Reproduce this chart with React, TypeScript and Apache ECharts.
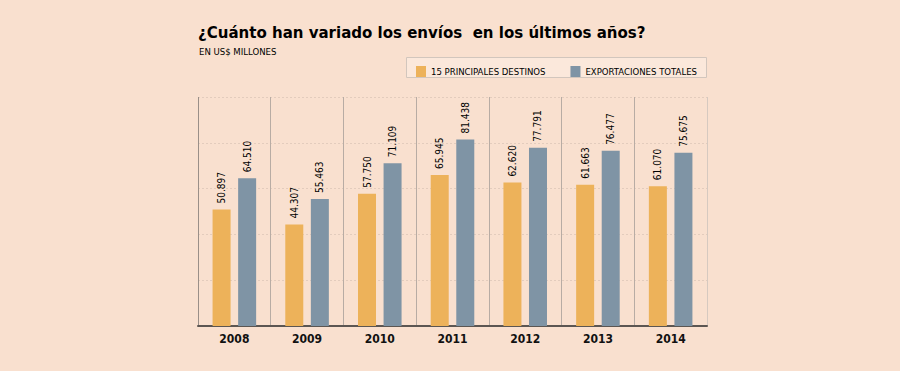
import React, { useEffect, useRef } from "react";
import * as echarts from "echarts";

const years = ["2008", "2009", "2010", "2011", "2012", "2013", "2014"];
const principales = [50897, 44307, 57750, 65945, 62620, 61663, 61070];
const totales = [64510, 55463, 71109, 81438, 77791, 76477, 75675];

const seriesNames = ["15 PRINCIPALES DESTINOS", "EXPORTACIONES TOTALES"];
const colors = ["#EDB25A", "#7F94A5"];
const BG = "#F9E0CF";
const condensed = "'DejaVu Sans Condensed', 'DejaVu Sans', sans-serif";

const fmt = (v: number) => v.toString().replace(/\B(?=(\d{3})+(?!\d))/g, ".");

export default function App() {
  const ref = useRef<HTMLDivElement>(null);

  useEffect(() => {
    document.body.style.margin = "0";
    if (!ref.current) return;
    const chart = echarts.init(ref.current, null, { renderer: "svg" });

    const label = {
      show: true,
      position: "top",
      rotate: 90,
      align: "left",
      verticalAlign: "middle",
      distance: 6,
      fontFamily: condensed,
      fontSize: 10,
      color: "#000",
      formatter: (p: any) => fmt(p.value),
    };

    chart.setOption({
      animation: false,
      backgroundColor: BG,
      title: [
        {
          text: "¿Cuánto han variado los envíos  en los últimos años?",
          left: 193,
          top: 18,
          textStyle: {
            fontFamily: condensed,
            fontWeight: "bold",
            fontSize: 16.7,
            color: "#000",
          },
        },
        {
          text: "EN US$ MILLONES",
          left: 194,
          top: 41,
          textStyle: {
            fontFamily: condensed,
            fontWeight: "normal",
            fontSize: 9.5,
            color: "#000",
          },
        },
      ],
      graphic: [
        {
          type: "rect",
          shape: { x: 406.5, y: 57.5, width: 300, height: 20 },
          style: { fill: "#FBE8DB", stroke: "#D2C6BD", lineWidth: 1 },
          z: 0,
        },
      ],
      legend: {
        left: 411,
        top: 61,
        itemWidth: 10,
        itemHeight: 11,
        itemGap: 25,
        icon: "rect",
        textStyle: { fontFamily: condensed, fontSize: 9.5, color: "#000" },
        data: seriesNames,
      },
      grid: { left: 198, right: 193, top: 97, bottom: 45 },
      xAxis: {
        type: "category",
        data: years,
        axisLine: { show: true, lineStyle: { color: "#5C5652", width: 2 } },
        axisTick: { show: false },
        axisLabel: {
          fontFamily: condensed,
          fontWeight: "bold",
          fontSize: 12,
          color: "#111",
          margin: 7,
        },
        splitLine: {
          show: true,
          interval: 0,
          lineStyle: {
            color: ["#9A8F88", "#B8ACA4", "#B8ACA4", "#B8ACA4", "#B8ACA4", "#B8ACA4", "#B8ACA4", "#D6C9C0"],
            width: 1,
          },
        },
      },
      yAxis: {
        type: "value",
        min: 0,
        max: 100000,
        interval: 20000,
        axisLine: { show: false },
        axisTick: { show: false },
        axisLabel: { show: false },
        splitLine: { show: true, lineStyle: { color: "#E3CCBD", type: [2, 2], width: 1 } },
      },
      series: [
        {
          name: seriesNames[0],
          type: "bar",
          data: principales,
          barWidth: 18,
          barGap: "42%",
          itemStyle: { color: colors[0] },
          label,
        },
        {
          name: seriesNames[1],
          type: "bar",
          data: totales,
          barWidth: 18,
          itemStyle: { color: colors[1] },
          label,
        },
      ],
    });

    return () => chart.dispose();
  }, []);

  return <div ref={ref} style={{ width: 900, height: 371 }} />;
}
